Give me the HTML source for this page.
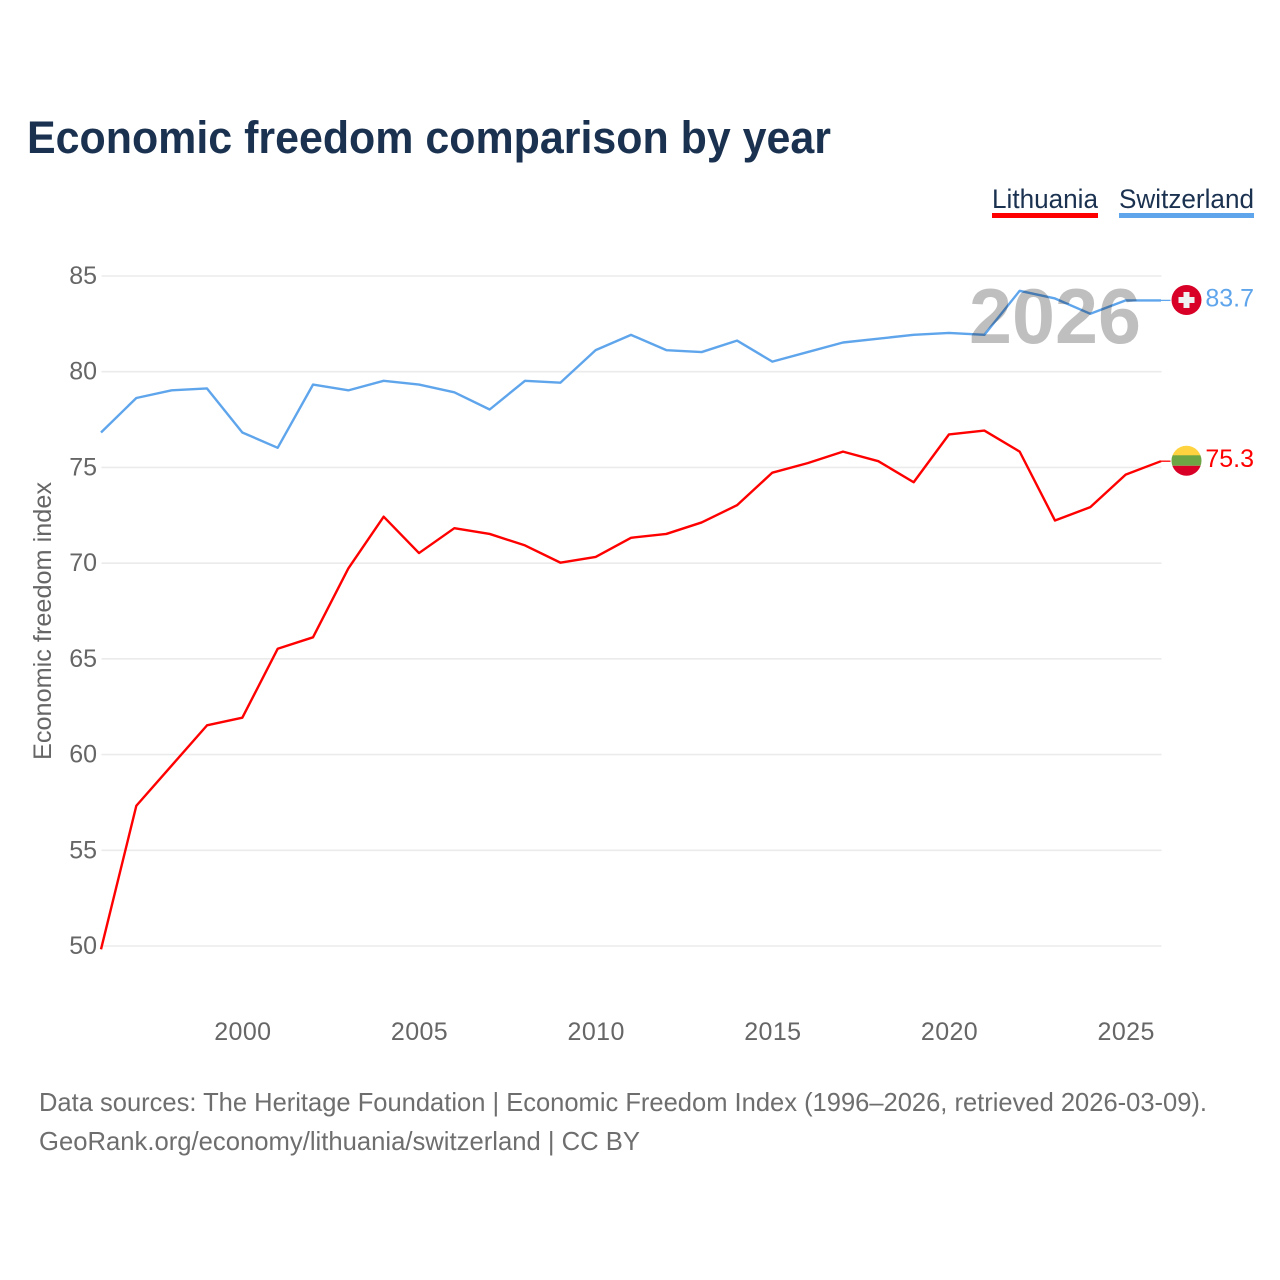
<!DOCTYPE html>
<html lang="en">
<head>
<meta charset="utf-8">
<title>Economic freedom comparison by year</title>
<style>
html,body{margin:0;padding:0;background:#fff;}
svg{display:block;font-family:"Liberation Sans",sans-serif;}
</style>
</head>
<body>
<svg id="chart" width="1280" height="1280" viewBox="0 0 1280 1280" xmlns="http://www.w3.org/2000/svg">
  <rect x="0" y="0" width="1280" height="1280" fill="#ffffff"/>
  <text x="27" y="153" font-size="45" font-weight="700" fill="#1a3150" textLength="804" lengthAdjust="spacingAndGlyphs">Economic freedom comparison by year</text>

  <g>
    <g>
      <text x="992" y="208" font-size="27" fill="#1a3150" textLength="106" lengthAdjust="spacingAndGlyphs">Lithuania</text>
      <rect x="992" y="213" width="106" height="5" fill="#ff0000"/>
    </g>
    <g>
      <text x="1119" y="208" font-size="27" fill="#1a3150" textLength="135" lengthAdjust="spacingAndGlyphs">Switzerland</text>
      <rect x="1119" y="213" width="135" height="5" fill="#5fa5ec"/>
    </g>
  </g>

  <g id="grid"></g>
  <g id="yticks"></g>
  <g id="xticks"></g>
  <text transform="translate(51,621) rotate(-90)" text-anchor="middle" font-size="25" fill="#666666" textLength="278" lengthAdjust="spacingAndGlyphs">Economic freedom index</text>

  <g id="series" transform="translate(-0.5,-0.5)"></g>

  <text x="969" y="343" font-size="78" font-weight="700" fill="rgba(0,0,0,0.25)" textLength="172" lengthAdjust="spacingAndGlyphs">2026</text>

  <g id="flag-ch">
    <circle cx="0" cy="0" r="15" fill="#d80027"/>
    <rect x="-8" y="-3" width="16" height="6" fill="#f0f0f0"/>
    <rect x="-3" y="-8" width="6" height="16" fill="#f0f0f0"/>
  </g>
  <g id="flag-lt">
    <clipPath id="lt-clip"><circle cx="0" cy="0" r="15"/></clipPath>
    <g clip-path="url(#lt-clip)">
      <rect x="-16" y="-16" width="32" height="11" fill="#ffd33f"/>
      <rect x="-16" y="-5.5" width="32" height="10.5" fill="#6da544"/>
      <rect x="-16" y="5" width="32" height="11" fill="#d80027"/>
    </g>
  </g>
  <g id="endlabels"></g>

  <text x="39" y="1111" font-size="26" fill="#6e6e6e" textLength="1168" lengthAdjust="spacingAndGlyphs">Data sources: The Heritage Foundation | Economic Freedom Index (1996–2026, retrieved 2026-03-09).</text>
  <text x="39" y="1150" font-size="26" fill="#6e6e6e" textLength="601" lengthAdjust="spacingAndGlyphs">GeoRank.org/economy/lithuania/switzerland | CC BY</text>
</svg>
<script>
const years = [1996,1997,1998,1999,2000,2001,2002,2003,2004,2005,2006,2007,2008,2009,2010,2011,2012,2013,2014,2015,2016,2017,2018,2019,2020,2021,2022,2023,2024,2025,2026];
const lithuania = [49.8,57.3,59.4,61.5,61.9,65.5,66.1,69.7,72.4,70.5,71.8,71.5,70.9,70.0,70.3,71.3,71.5,72.1,73.0,74.7,75.2,75.8,75.3,74.2,76.7,76.9,75.8,72.2,72.9,74.6,75.3];
const switzerland = [76.8,78.6,79.0,79.1,76.8,76.0,79.3,79.0,79.5,79.3,78.9,78.0,79.5,79.4,81.1,81.9,81.1,81.0,81.6,80.5,81.0,81.5,81.7,81.9,82.0,81.9,84.2,83.8,83.0,83.7,83.7];
const yTicks = [50,55,60,65,70,75,80,85];
const xTicks = [2000,2005,2010,2015,2020,2025];

const NS = 'http://www.w3.org/2000/svg';
const plotLeft = 101.5, plotRight = 1161.5, plotTop = 276, plotBottom = 946;
const xMin = 1996, xMax = 2026, yMin = 50, yMax = 85;
function xScale(v){ return plotLeft + (v - xMin) / (xMax - xMin) * (plotRight - plotLeft); }
function yScale(v){ return plotBottom - (v - yMin) / (yMax - yMin) * (plotBottom - plotTop); }

const gridG = document.getElementById('grid');
const yG = document.getElementById('yticks');
const xG = document.getElementById('xticks');
const seriesG = document.getElementById('series');
const endG = document.getElementById('endlabels');

yTicks.forEach(function(t){
  const line = document.createElementNS(NS, 'line');
  
  
  line.setAttribute('x1', plotLeft);
  line.setAttribute('x2', plotRight);
  line.setAttribute('y1', yScale(t));
  line.setAttribute('y2', yScale(t));
  line.setAttribute('stroke', '#ebebeb');
  line.setAttribute('stroke-width', '1.6');
  gridG.appendChild(line);

  const label = document.createElementNS(NS, 'text');
  
  
  label.setAttribute('x', 97);
  label.setAttribute('y', yScale(t) + 8);
  label.setAttribute('text-anchor', 'end');
  label.setAttribute('font-size', '25');
  label.setAttribute('fill', '#666666');
  label.textContent = t;
  yG.appendChild(label);
});

xTicks.forEach(function(t){
  const label = document.createElementNS(NS, 'text');
  
  
  label.setAttribute('x', xScale(t));
  label.setAttribute('y', 1040);
  label.setAttribute('text-anchor', 'middle');
  label.setAttribute('font-size', '25');
  label.setAttribute('letter-spacing', '0.4');
  label.setAttribute('fill', '#666666');
  label.textContent = t;
  xG.appendChild(label);
});

function pathFor(values){
  return values.map(function(v, i){
    return (i ? 'L' : 'M') + xScale(years[i]).toFixed(2) + ' ' + yScale(v).toFixed(2);
  }).join(' ');
}

const lastLt = lithuania[lithuania.length - 1];
const lastCh = switzerland[switzerland.length - 1];

const connLt = document.createElementNS(NS, 'line');


connLt.setAttribute('x1', plotRight);
connLt.setAttribute('x2', 1171);
connLt.setAttribute('y1', yScale(lastLt));
connLt.setAttribute('y2', yScale(lastLt));
connLt.setAttribute('stroke', '#ff0000');
connLt.setAttribute('stroke-width', '1.3');
seriesG.appendChild(connLt);

const connCh = document.createElementNS(NS, 'line');


connCh.setAttribute('x1', plotRight);
connCh.setAttribute('x2', 1171);
connCh.setAttribute('y1', yScale(lastCh));
connCh.setAttribute('y2', yScale(lastCh));
connCh.setAttribute('stroke', '#5fa5ec');
connCh.setAttribute('stroke-width', '1.3');
seriesG.appendChild(connCh);

const lineLt = document.createElementNS(NS, 'path');


lineLt.setAttribute('d', pathFor(lithuania));
lineLt.setAttribute('fill', 'none');
lineLt.setAttribute('stroke', '#ff0000');
lineLt.setAttribute('stroke-width', '2.4');
lineLt.setAttribute('stroke-linejoin', 'round');
seriesG.appendChild(lineLt);

const lineCh = document.createElementNS(NS, 'path');


lineCh.setAttribute('d', pathFor(switzerland));
lineCh.setAttribute('fill', 'none');
lineCh.setAttribute('stroke', '#5fa5ec');
lineCh.setAttribute('stroke-width', '2.4');
lineCh.setAttribute('stroke-linejoin', 'round');
seriesG.appendChild(lineCh);

document.getElementById('flag-ch').setAttribute('transform', 'translate(1186.5,' + (yScale(lastCh) - 0.9) + ')');
document.getElementById('flag-lt').setAttribute('transform', 'translate(1186.5,' + (yScale(lastLt) - 0.9) + ')');

const valueCh = document.createElementNS(NS, 'text');


valueCh.setAttribute('x', 1254);
valueCh.setAttribute('y', yScale(lastCh) + 5.4);
valueCh.setAttribute('text-anchor', 'end');
valueCh.setAttribute('font-size', '25');
valueCh.setAttribute('fill', '#5fa5ec');
valueCh.textContent = lastCh.toFixed(1);
endG.appendChild(valueCh);

const valueLt = document.createElementNS(NS, 'text');


valueLt.setAttribute('x', 1254);
valueLt.setAttribute('y', yScale(lastLt) + 5.4);
valueLt.setAttribute('text-anchor', 'end');
valueLt.setAttribute('font-size', '25');
valueLt.setAttribute('fill', '#ff0000');
valueLt.textContent = lastLt.toFixed(1);
endG.appendChild(valueLt);
</script>
</body>
</html>
